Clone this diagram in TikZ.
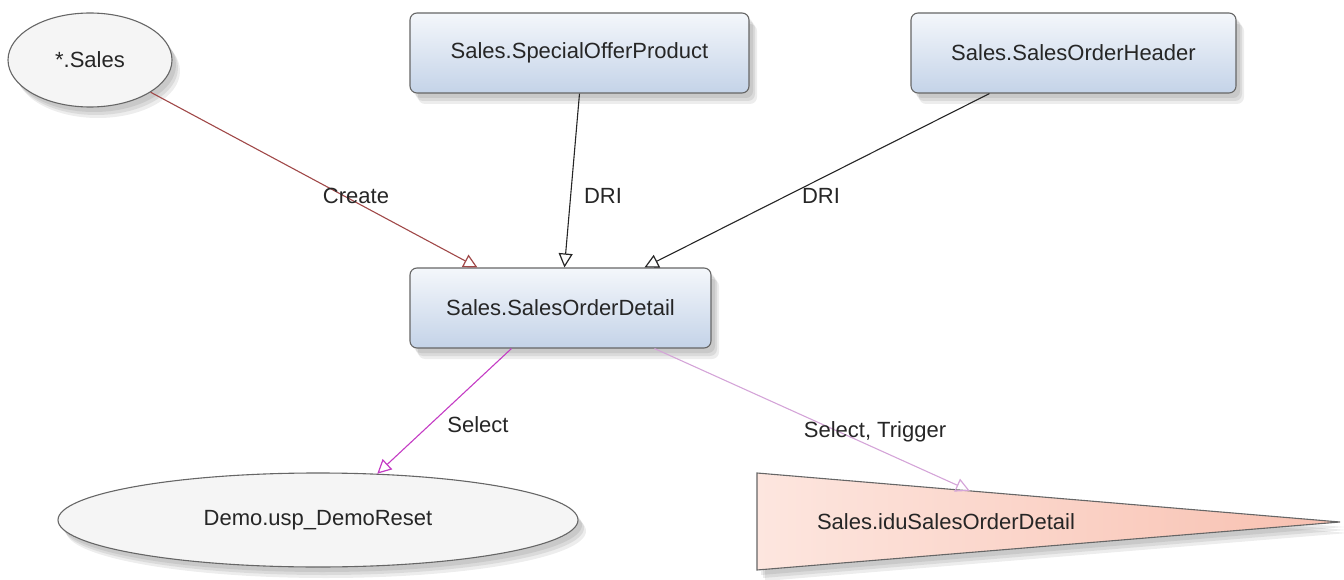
\documentclass[tikz,border=0pt]{standalone}
\usepackage{fontspec}
\setmainfont{Liberation Sans}
\usetikzlibrary{arrows.meta,shapes.geometric,shadows,calc}
\definecolor{boxtop}{HTML}{F4F7FB}
\definecolor{boxbot}{HTML}{C4D3E8}
\definecolor{boxline}{HTML}{666666}
\definecolor{ellfill}{HTML}{F5F5F5}
\definecolor{createc}{HTML}{A04848}
\definecolor{selc}{HTML}{C43CC4}
\definecolor{trigc}{HTML}{D4A4D8}
\definecolor{trileft}{HTML}{FDE6DF}
\definecolor{triright}{HTML}{F8C0B0}
\tikzset{
  softshadow/.style={
    drop shadow={shadow xshift=8pt, shadow yshift=-11pt, opacity=0.07, fill=black},
    drop shadow={shadow xshift=6pt, shadow yshift=-8pt, opacity=0.08, fill=black},
    drop shadow={shadow xshift=4pt, shadow yshift=-5pt, opacity=0.08, fill=black}},
  tablebox/.style={draw=boxline, line width=1.1pt, rounded corners=7pt,
    top color=boxtop, bottom color=boxbot, inner sep=0pt, softshadow},
  objell/.style={ellipse, draw=boxline, line width=1.1pt, fill=ellfill, inner sep=0pt, softshadow},
  conn/.style={line width=1.1pt, -{Triangle[open, length=14pt, width=14pt, line width=1.2pt]}},
  lbl/.style={inner sep=1pt, text=black!85}
}
\begin{document}
\begin{tikzpicture}[x=1pt, y=-1pt, font=\fontsize{22}{26}\selectfont, text=black!85]
\useasboundingbox (0,0) rectangle (1344,580);

% nodes
\node[objell, minimum width=164pt, minimum height=94pt] (sales) at (90,60) {*.Sales};
\node[tablebox, minimum width=339pt, minimum height=80pt] (sop) at (579.5,53) {Sales.SpecialOfferProduct};
\node[tablebox, minimum width=325pt, minimum height=80pt] (soh) at (1073.5,53) {Sales.SalesOrderHeader};
\node[tablebox, minimum width=301pt, minimum height=80pt] (sod) at (560.5,308) {Sales.SalesOrderDetail};
\node[objell, minimum width=520pt, minimum height=94pt] (demo) at (318,520) {Demo.usp\_DemoReset};

% trigger triangle
\coordinate (t1) at (757,473);
\coordinate (t2) at (1340,522);
\coordinate (t3) at (757,570);
\foreach \s/\o in {(8pt,-11pt)/0.07, (6pt,-8pt)/0.08, (4pt,-5pt)/0.08}
  \fill[black, opacity=\o] ([shift={\s}]t1) -- ([shift={\s}]t2) -- ([shift={\s}]t3) -- cycle;
\draw[draw=boxline, line width=1.1pt, left color=trileft, right color=triright] (t1) -- (t2) -- (t3) -- cycle;
\node (trig) at (946,522) {Sales.iduSalesOrderDetail};
\coordinate (trigin) at ($(t1)!0.365!(t2)$);

% connectors
\draw[conn, createc] (sales.-28) -- ([xshift=68pt]sod.north west);
\draw[conn, black!85] (sop.south) -- ([xshift=155pt]sod.north west);
\draw[conn, black!85] ([xshift=79pt]soh.south west) -- ([xshift=235pt]sod.north west);
\draw[conn, selc] ([xshift=102pt]sod.south west) -- (demo.38.8);
\draw[conn, trigc] ([xshift=245pt]sod.south west) -- (trigin);

% labels
\node[lbl] (lcreate) at (356,196) {Create};
\node[lbl] (ldri1) at (603,196) {DRI};
\node[lbl] (ldri2) at (821,196) {DRI};
\node[lbl] (lsel) at (478,425) {Select};
\node[lbl] (ltrig) at (875,432) {Select, Trigger};
\end{tikzpicture}
\end{document}
